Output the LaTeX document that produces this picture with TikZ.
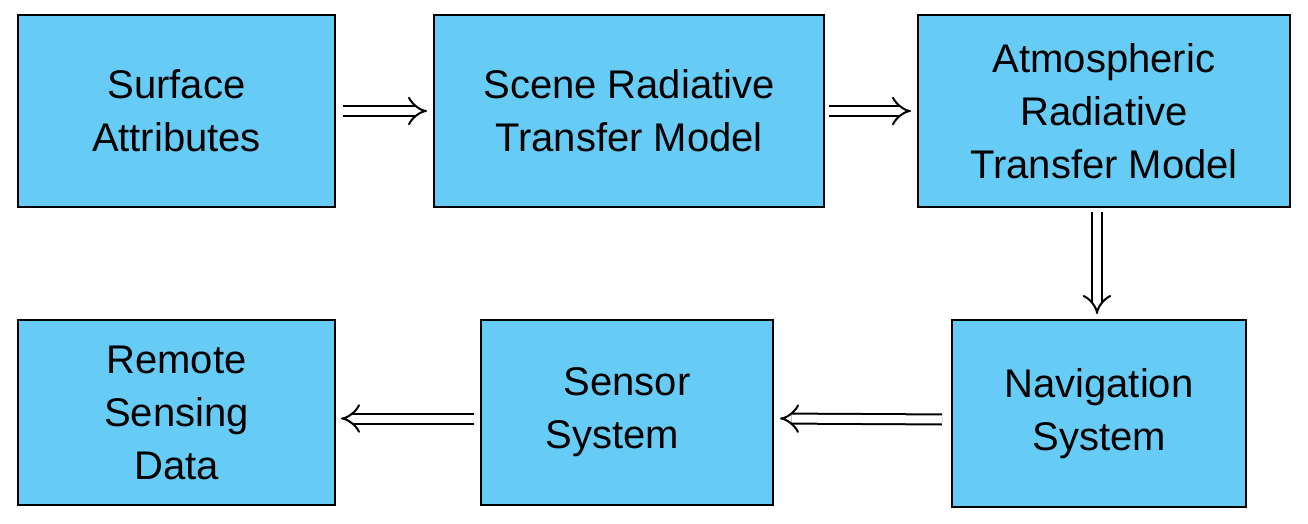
\documentclass[tikz,border=0pt]{standalone}
\usepackage{fontspec}
\setmainfont{Liberation Sans}
\usetikzlibrary{arrows.meta}
\definecolor{boxblue}{RGB}{102,204,245}
\tikzset{
  block/.style={rectangle, draw, fill=boxblue, line width=2pt, align=center,
    font=\fontsize{40}{53}\selectfont, inner sep=0pt},
  flow/.style={double, double distance=8pt, line width=2pt, -{Implies[length=14pt]}}
}
\begin{document}
\begin{tikzpicture}[x=1pt, y=-1pt]
  \useasboundingbox (0,0) rectangle (1308,524);
  % Boxes
  \node (surf) [block, minimum width=317pt, minimum height=192pt] at (176.5,111) {Surface\\Attributes};
  \node (scene) [block, minimum width=390pt, minimum height=192pt] at (629,111) {Scene Radiative\\Transfer Model};
  \node (atmo) [block, minimum width=372pt, minimum height=192pt] at (1104,111) {Atmospheric\\Radiative\\Transfer Model};
  \node (nav) [block, minimum width=294pt, minimum height=187pt] at (1099,413.5) {Navigation\\System};
  \node (sens) [block, minimum width=292pt, minimum height=185pt] at (627,412.5) {Sensor\\System\hspace*{30pt}};
  \node (data) [block, minimum width=317pt, minimum height=185pt] at (176.5,412.5) {Remote\\Sensing\\Data};
  \coordinate (atmoout) at (1097,207);
  \coordinate (navin) at (1097,320);
  % Arrows
  \draw[flow, shorten <=7pt, shorten >=6pt] (surf) -- (scene);
  \draw[flow, shorten <=4pt, shorten >=6pt] (scene) -- (atmo);
  \draw[flow, shorten <=5pt, shorten >=6pt] (atmoout) -- (navin);
  \draw[flow, shorten <=9pt, shorten >=6pt] ([yshift=-6pt]nav.west) -- ([yshift=-6pt]sens.east);
  \draw[flow, shorten <=6pt, shorten >=5pt] ([yshift=-6pt]sens.west) -- ([yshift=-6pt]data.east);
\end{tikzpicture}
\end{document}
